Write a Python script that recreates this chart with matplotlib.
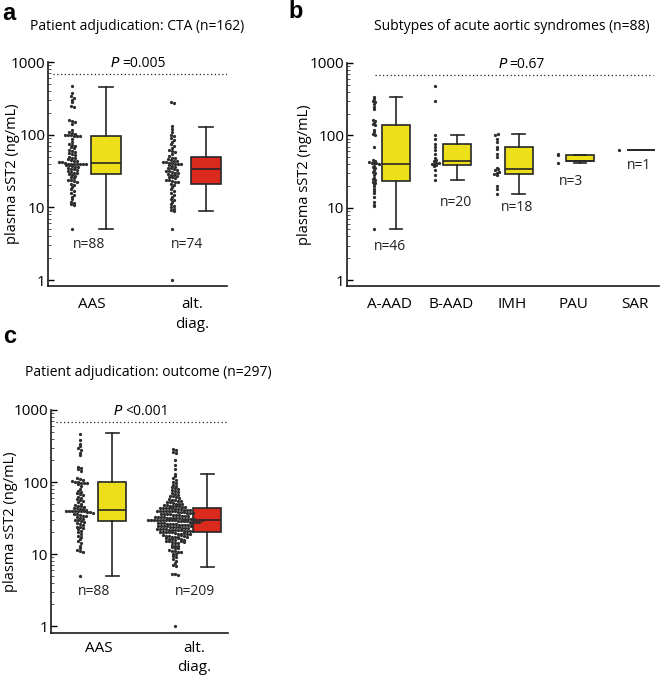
import numpy as np
import matplotlib
matplotlib.use("Agg")
import matplotlib.pyplot as plt
from matplotlib.ticker import FixedLocator, NullFormatter, FixedFormatter

plt.rcParams['font.family'] = ['Open Sans', 'DejaVu Sans']

# ---------------- data ----------------
cta_categories = ['AAS', 'alt.\ndiag.']
aas_values = [470, 380, 340, 320, 300, 280, 250, 240, 160, 155, 150, 140, 115, 110, 105, 102, 100, 100, 98, 97, 96, 95,
              88, 80, 75, 72, 70, 68, 65, 62, 60, 58, 56, 55, 52, 50, 48, 47, 46, 45, 44, 43, 42, 42,
              41, 40, 40, 40, 40, 40, 39, 39, 38, 38, 37, 36, 36, 35, 34, 34, 33, 32, 31, 30, 30, 29,
              28, 27, 26, 25, 24, 24, 23, 22, 21, 20, 19, 18, 17, 16, 15, 14, 13, 12, 11.5, 11, 10.8, 5]
cta_alt_values = [280, 270, 130, 120, 110, 100, 95, 90, 85, 80, 75, 70, 65, 62, 60, 57, 54, 51,
                  48, 47, 46, 45, 44, 43, 42, 42, 41, 41, 40, 40, 39, 38, 37, 36, 35, 35, 34,
                  33, 32, 32, 31, 30, 30, 29, 28, 28, 27, 26, 26, 25, 24, 24, 23, 22, 22, 21,
                  20, 19, 18, 17, 16, 15, 14, 13, 12.5, 12, 11, 10.5, 10, 9.5, 9.2, 9, 5, 1]
# box stats: [AAS, alt. diag.]
cta_whislo = [5.0, 8.9]
cta_q1 = [28.7, 21.0]
cta_med = [40.6, 33.6]
cta_q3 = [97, 49]
cta_whishi = [452, 128]
cta_n = ['n=88', 'n=74']

sub_categories = ['A-AAD', 'B-AAD', 'IMH', 'PAU', 'SAR']
a_aad_values = [340, 320, 300, 290, 270, 250, 230, 165, 160, 150, 145, 140,
                120, 110, 105, 100, 70, 45, 44, 43, 42, 41.5, 41,
                40, 38, 36, 35, 33, 31, 30, 28, 26, 25, 24,
                23, 22, 21, 20, 18, 17, 16, 14, 12, 11, 10.5, 5]
b_aad_values = [24.5, 28, 33, 38, 39, 40, 40, 41, 42, 44, 45, 48, 55, 62, 70, 76, 90, 102, 300, 480]
imh_values = [15.7, 18, 20, 28, 29.6, 30, 31, 33, 34, 35.5, 50, 55, 65, 70, 80, 90, 100, 105]
pau_values = [56, 53, 42]
sar_values = [62]
sub_whislo = [5.0, 24.5, 15.7, 42, 62]
sub_q1 = [23.7, 39, 29.6, 44, 62]
sub_med = [40.7, 44.7, 34.7, 44, 62]
sub_q3 = [140, 76, 70, 54, 62]
sub_whishi = [340, 102, 105, 54, 62]
sub_n = ['n=46', 'n=20', 'n=18', 'n=3', 'n=1']
sub_n_y = [2.9, 11.8, 10, 23, 38]

out_alt_values = [290, 280, 265, 250, 200, 170, 150, 130, 122, 112, 105, 100, 96, 92, 88, 85, 82, 80, 77, 75,
                  72, 70, 68, 66, 64, 63, 61, 60, 58, 57, 56, 55, 54, 53, 52, 51, 50, 50, 49, 48,
                  48, 47, 47, 46, 46, 45, 45, 44, 44, 44, 43, 43,
                  42, 42, 42, 41, 41, 41, 40, 40, 40, 40, 39, 39, 39, 38, 38, 38, 37, 37, 37, 36,
                  36, 36, 36, 35, 35, 35, 34, 34, 34, 33, 33, 33, 33, 32, 32, 32, 31.5, 31.5, 31, 31,
                  31, 30.5, 30.5, 30, 30, 30, 30, 29.8, 29.8, 29.7, 29.7, 29.6,
                  29.4, 29.1, 28.9, 28.6, 28.4, 28.1, 27.9, 27.7, 27.4, 27.2, 26.9, 26.7, 26.5, 26.3, 26.0,
                  25.8, 25.6, 25.4, 25.2, 25.0, 24.8, 24.6, 24.4, 24.2, 24.0, 23.8, 23.6, 23.4, 23.2, 23.0,
                  22.8, 22.6, 22.5, 22.3, 22.1, 21.9, 21.8, 21.6, 21.4, 21.3, 21.1, 20.9, 20.8, 20.6, 20.5,
                  20.3, 20.2, 20.1, 20.0, 29.5, 27.0, 24.5,
                  19.5, 19, 19, 18.5, 18, 18, 17.5, 17, 17, 16.5, 16, 16, 15.5, 15, 15, 14.5, 14, 14, 13.5, 13,
                  13, 12.5, 12, 12, 11.5, 11, 11, 10.5, 10.5, 10, 10, 9.5, 9, 8.5, 8, 7.5, 7, 6.8, 5.3, 5.2,
                  5.1, 1.0, 19.8, 19.2, 18.8, 18.2, 17.8, 17.2, 16.8, 16.2, 15.8, 15.2, 14.8]
out_whislo = [4.9, 6.5]
out_q1 = [29, 20]
out_med = [40.8, 29.6]
out_q3 = [101, 43]
out_whishi = [475, 129]
out_n = ['n=88', 'n=209']

box_colors_two = ['#EDE01B', '#D92A1D']
box_color_sub = '#EDE01B'
dot_color = '#2e2e2e'
edge = '#262626'

W, H = 660, 676
fig = plt.figure(figsize=(W / 100, H / 100), dpi=100)


def axes_px(left, right, top_1000, bottom):
    return fig.add_axes([left / W, 1 - bottom / H, (right - left) / W, (bottom - top_1000) / H])


def swarm(values, px_per_unit, decade_px, dot_px=3.0):
    lv = np.log10(np.asarray(values, float))
    bins = np.round(lv / (dot_px / decade_px)).astype(int)
    off = np.zeros(len(lv))
    for b in np.unique(bins):
        idx = np.where(bins == b)[0]
        k = len(idx)
        off[idx] = (np.arange(k) - (k - 1) / 2) * dot_px / px_per_unit
    return off


def style_axis(ax, ylo, label_dx_px, width_px, xpad=8):
    ax.set_yscale('log')
    ax.set_ylim(ylo, 1000)
    for s in ['top', 'right']:
        ax.spines[s].set_visible(False)
    for s in ['left', 'bottom']:
        ax.spines[s].set_linewidth(1.2)
        ax.spines[s].set_color('#1a1a1a')
    ax.yaxis.set_major_locator(FixedLocator([1, 10, 100, 1000]))
    ax.yaxis.set_major_formatter(FixedFormatter(['1', '10', '100', '1000']))
    minors = [m * 10 ** e for e in range(0, 3) for m in range(2, 10)]
    ax.yaxis.set_minor_locator(FixedLocator(minors))
    ax.yaxis.set_minor_formatter(NullFormatter())
    ax.tick_params(axis='y', which='major', direction='in', length=4, width=1.0, labelsize=11, pad=2)
    ax.tick_params(axis='y', which='minor', direction='in', length=2.5, width=0.7, color='#555555')
    ax.tick_params(axis='x', which='both', length=0, labelsize=11, pad=xpad)
    ax.set_ylabel('plasma sST2 (ng/mL)', fontsize=10.5)
    # anchor is the label's right edge (rotated text); centre lies ~7 px further left
    ax.yaxis.set_label_coords((label_dx_px + 7) / width_px, 0.5)


def draw_boxes(ax, positions, q1, med, q3, lo, hi, colors, width):
    stats = [dict(q1=q1[i], med=med[i], q3=q3[i], whislo=lo[i], whishi=hi[i], fliers=[])
             for i in range(len(positions))]
    bp = ax.bxp(stats, positions=positions, widths=width, patch_artist=True, showfliers=False,
                capwidths=width * 0.45,
                boxprops=dict(edgecolor=edge, linewidth=1.2),
                medianprops=dict(color=edge, linewidth=1.2),
                whiskerprops=dict(color=edge, linewidth=1.2),
                capprops=dict(color=edge, linewidth=1.2), manage_ticks=False)
    for p, c in zip(bp['boxes'], colors):
        p.set_facecolor(c)


def two_group_panel(ax, groups, q1, med, q3, lo, hi, ns, ptext, px_unit, decade_px, n_x, lsp=1.4):
    pos = np.array([1, 2])
    for i, vals in enumerate(groups):
        off = swarm(vals, px_unit, decade_px)
        ax.scatter(pos[i] - 0.2 + off, vals, s=5.5, color=dot_color, linewidths=0, zorder=3, clip_on=False)
    draw_boxes(ax, list(pos + 0.14), q1, med, q3, lo, hi, box_colors_two, 0.30)
    ax.set_xticks(pos)
    ax.set_xticklabels(cta_categories, linespacing=lsp)
    ax.axhline(680, color='#222222', lw=0.9, ls=(0, (1, 2)), xmin=0.03, xmax=1.0)
    ax.text(np.mean(ax.get_xlim()) - 0.17, 960, '$P$', fontsize=10, ha='right', va='center')
    ax.text(np.mean(ax.get_xlim()) - 0.15, 960, ptext, fontsize=10, ha='left', va='center')
    for i in range(2):
        ax.text(pos[i] + n_x[i], 3.05, ns[i], fontsize=10, ha='center', va='center', color='#222222')


# ---------- panel a ----------
ax_a = axes_px(48, 227, 62, 286)
ax_a.set_xlim(0.56, 2.35)
style_axis(ax_a, 0.827, -35, 179)
two_group_panel(ax_a, [aas_values, cta_alt_values], cta_q1, cta_med, cta_q3, cta_whislo, cta_whishi,
                cta_n, '=0.005', 100, 72.7, [-0.03, -0.05])

# ---------- panel c ----------
ax_c = axes_px(51, 228, 410, 633)
ax_c.set_xlim(0.495, 2.36)
style_axis(ax_c, 0.80, -40, 177, xpad=6)
two_group_panel(ax_c, [aas_values, out_alt_values], out_q1, out_med, out_q3, out_whislo, out_whishi,
                out_n, '<0.001', 95, 72, [-0.05, 0.01], lsp=1.3)

# ---------- panel b ----------
ax_b = axes_px(347, 659, 63, 286)
ax_b.set_xlim(0.30, 5.39)
style_axis(ax_b, 0.827, -42, 312)
sub_groups = [a_aad_values, b_aad_values, imh_values, pau_values, sar_values]
sub_pos = np.arange(1, 6)
for i, vals in enumerate(sub_groups):
    off = swarm(vals, 61.3, 72.7, dot_px=2.4)
    ax_b.scatter(sub_pos[i] - 0.26 + off, vals, s=5.5, color=dot_color, linewidths=0, zorder=3)
draw_boxes(ax_b, list(sub_pos + 0.1), sub_q1, sub_med, sub_q3, sub_whislo, sub_whishi,
           [box_color_sub] * 5, 0.46)
ax_b.set_xticks(sub_pos)
ax_b.set_xticklabels(sub_categories)
ax_b.axhline(680, color='#222222', lw=0.9, ls=(0, (1, 2)), xmin=0.09, xmax=0.98)
ax_b.text(2.93, 960, '$P$', fontsize=10, ha='right', va='center')
ax_b.text(2.95, 960, '=0.67', fontsize=10, ha='left', va='center')
for i in range(5):
    ax_b.text(sub_pos[i] + [0.0, 0.08, 0.08, -0.04, 0.06][i], sub_n_y[i], sub_n[i],
              fontsize=10, ha='center', va='center', color='#222222')

# ---------- titles & panel letters ----------
fig.text(137 / W, 1 - 27 / H, 'Patient adjudication: CTA (n=162)', fontsize=10, ha='center', va='center')
fig.text(512 / W, 1 - 27 / H, 'Subtypes of acute aortic syndromes (n=88)', fontsize=10, ha='center', va='center')
fig.text(148 / W, 1 - 373 / H, 'Patient adjudication: outcome (n=297)', fontsize=10, ha='center', va='center')
for lab, x, y in [('a', 2, 14), ('b', 288, 12), ('c', 3, 337)]:
    fig.text(x / W, 1 - y / H, lab, fontsize=17, fontweight='bold', ha='left', va='center',
             family=['Liberation Sans', 'DejaVu Sans'])

fig.savefig('out.png', dpi=100)
